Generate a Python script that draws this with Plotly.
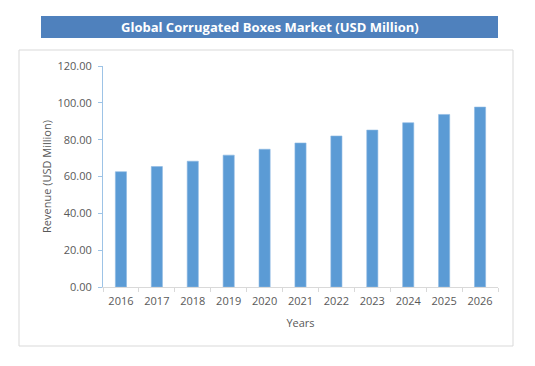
import plotly.graph_objects as go

years = ["2016", "2017", "2018", "2019", "2020", "2021", "2022", "2023", "2024", "2025", "2026"]
revenue = [62.6, 65.4, 68.3, 71.6, 74.8, 78.2, 82.0, 85.2, 89.2, 93.7, 97.7]
y_ticks = [0, 20, 40, 60, 80, 100, 120]
y_tick_labels = ["0.00", "20.00", "40.00", "60.00", "80.00", "100.00", "120.00"]

OFF = 8  # page body margin
W, H = 535 - OFF, 366 - OFF
# plot area in page coordinates: x 103..498, y 66..287
L, R, T, B = 103 - OFF, 535 - 498, 66 - OFF, 366 - 287
PW, PH = W - L - R, H - T - B


def px(x):
    return (x - OFF - L) / PW


def py(y):
    return (H - B - (y - OFF)) / PH


fig = go.Figure()
fig.add_trace(go.Bar(
    x=years, y=revenue,
    marker=dict(color="#5B9BD5", line=dict(color="#8DB8E2", width=0.6)),
))

fig.update_layout(
    width=W, height=H,
    margin=dict(l=L, r=R, t=T, b=B),
    paper_bgcolor="white", plot_bgcolor="white",
    bargap=0.69,
    showlegend=False,
    font=dict(family="Open Sans, sans-serif", size=11, color="#595959"),
    xaxis=dict(
        type="category",
        showline=True, linecolor="#D9D9D9", linewidth=1,
        ticks="outside", tickson="boundaries", ticklen=4, tickcolor="#D9D9D9",
        ticklabelstandoff=4,
        tickfont=dict(size=11, color="#595959"),
        title=dict(text="Years", font=dict(size=11, color="#595959"), standoff=12),
        showgrid=False,
    ),
    yaxis=dict(
        range=[0, 120],
        tickvals=y_ticks, ticktext=y_tick_labels,
        showline=True, linecolor="#9DC3E6", linewidth=1,
        ticks="outside", ticklen=4, tickcolor="#9DC3E6",
        ticklabelstandoff=4,
        tickfont=dict(size=11, color="#595959"),
        title=dict(text="Revenue (USD Million)", font=dict(size=11, color="#595959"), standoff=3),
        showgrid=False, zeroline=False,
    ),
    shapes=[
        dict(type="rect", xref="paper", yref="paper",
             x0=px(19), x1=px(513), y0=py(346), y1=py(50),
             line=dict(color="#D9D9D9", width=1), fillcolor="rgba(0,0,0,0)", layer="below"),
        dict(type="rect", xref="paper", yref="paper",
             x0=px(41), x1=px(498), y0=py(38), y1=py(16),
             line=dict(width=0), fillcolor="#4F81BD", layer="below"),
    ],
    annotations=[
        dict(text="<b>Global Corrugated Boxes Market (USD Million)</b>",
             xref="paper", yref="paper",
             x=px((41 + 498) / 2), y=py(27),
             xanchor="center", yanchor="middle", showarrow=False,
             font=dict(family="Open Sans, sans-serif", size=13, color="white")),
    ],
)

fig.write_html("out.html")
